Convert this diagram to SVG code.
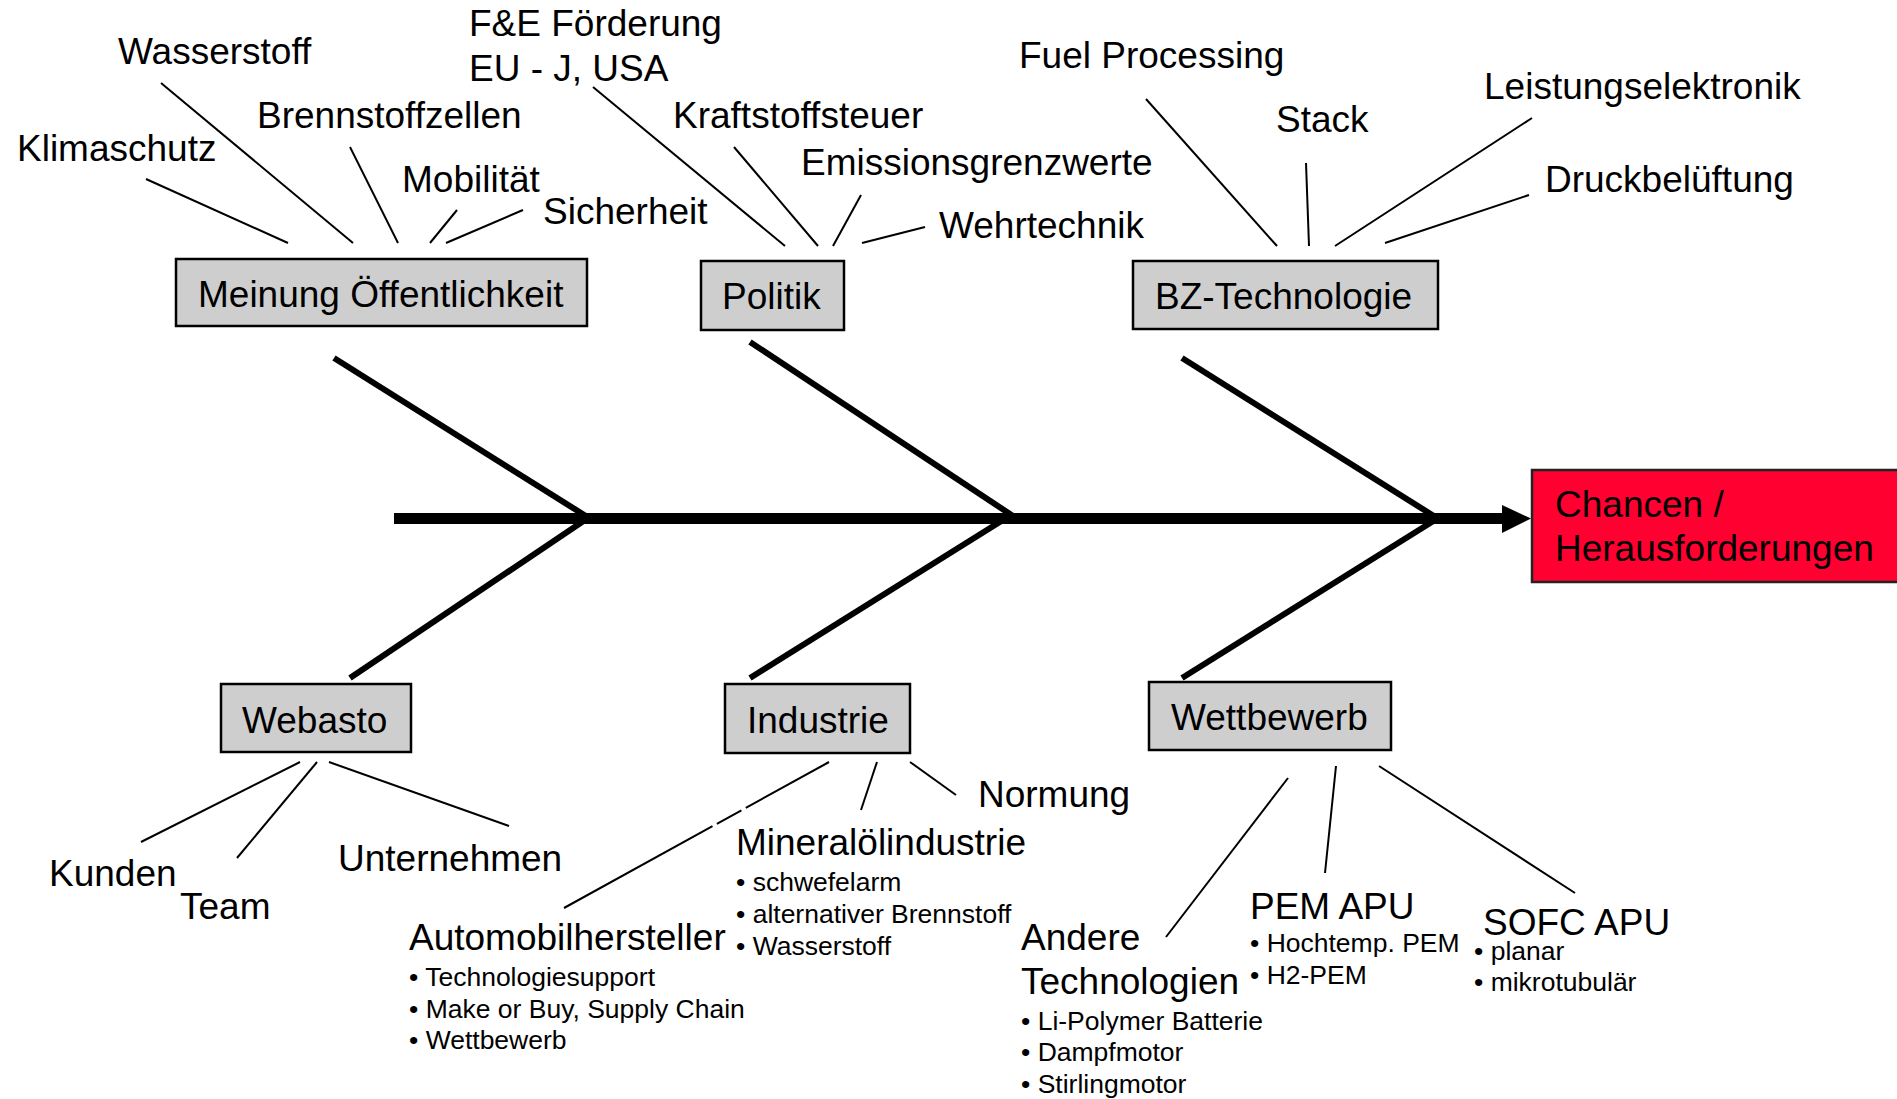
<svg xmlns="http://www.w3.org/2000/svg" width="1897" height="1099" viewBox="0 0 1897 1099">
<style>
text{font-family:"Liberation Sans",Arial,sans-serif;fill:#000}
.lg{font-size:37px}
.sm{font-size:26.5px}
.box{fill:#cecece;stroke:#000;stroke-width:2.5}
.thin{stroke:#000;stroke-width:2;fill:none}
.bone{stroke:#000;stroke-width:6;fill:none}
</style>
<rect width="1897" height="1099" fill="#fff"/>
<g id="connectors">
<line x1="394" y1="518.5" x2="1504" y2="518.5" stroke="#000" stroke-width="11"/>
<polygon points="1502,505 1531,518.5 1502,533" fill="#000"/>
<line class="bone" x1="334" y1="358" x2="589" y2="518"/>
<line class="bone" x1="585" y1="520" x2="350" y2="678"/>
<line class="bone" x1="750" y1="342" x2="1016" y2="518"/>
<line class="bone" x1="1003" y1="520" x2="750" y2="678"/>
<line class="bone" x1="1182" y1="358" x2="1437" y2="518"/>
<line class="bone" x1="1435" y1="520" x2="1182" y2="678"/>
<line class="thin" x1="146" y1="179" x2="288" y2="243"/>
<line class="thin" x1="161" y1="83" x2="353" y2="243"/>
<line class="thin" x1="350" y1="147" x2="398" y2="243"/>
<line class="thin" x1="457" y1="210" x2="430" y2="243"/>
<line class="thin" x1="523" y1="210" x2="446" y2="243"/>
<line class="thin" x1="593" y1="87" x2="785" y2="246"/>
<line class="thin" x1="734" y1="147" x2="818" y2="246"/>
<line class="thin" x1="861" y1="195" x2="833" y2="246"/>
<line class="thin" x1="925" y1="227" x2="862" y2="243"/>
<line class="thin" x1="1146" y1="99" x2="1277" y2="246"/>
<line class="thin" x1="1306" y1="163" x2="1309" y2="246"/>
<line class="thin" x1="1532" y1="118" x2="1335" y2="246"/>
<line class="thin" x1="1529" y1="195" x2="1385" y2="243"/>
<line class="thin" x1="300" y1="762" x2="141" y2="842"/>
<line class="thin" x1="317" y1="762" x2="237" y2="858"/>
<line class="thin" x1="329" y1="762" x2="509" y2="826"/>
<line class="thin" x1="829" y1="762" x2="564" y2="908" stroke-dasharray="95 5 28 5 400"/>
<line class="thin" x1="877" y1="762" x2="861" y2="810"/>
<line class="thin" x1="910" y1="762" x2="956" y2="795"/>
<line class="thin" x1="1288" y1="778" x2="1166" y2="937"/>
<line class="thin" x1="1336" y1="766" x2="1325" y2="873"/>
<line class="thin" x1="1379" y1="766" x2="1575" y2="893"/>
</g>
<g id="node-meinung">
<rect class="box" x="176" y="259" width="411" height="67"/>
<text class="lg" x="198" y="307">Meinung Öffentlichkeit</text>
</g>
<g id="node-politik">
<rect class="box" x="701" y="261" width="143" height="69"/>
<text class="lg" x="722" y="309">Politik</text>
</g>
<g id="node-bz">
<rect class="box" x="1133" y="261" width="305" height="68"/>
<text class="lg" x="1155" y="309">BZ-Technologie</text>
</g>
<g id="node-webasto">
<rect class="box" x="221" y="684" width="190" height="68"/>
<text class="lg" x="242" y="733">Webasto</text>
</g>
<g id="node-industrie">
<rect class="box" x="725" y="684" width="185" height="69"/>
<text class="lg" x="747" y="733">Industrie</text>
</g>
<g id="node-wettbewerb">
<rect class="box" x="1149" y="682" width="242" height="68"/>
<text class="lg" x="1171" y="730">Wettbewerb</text>
</g>
<g id="node-ziel">
<rect x="1532" y="470" width="370" height="112" fill="#ff0030" stroke="#222" stroke-width="2.5"/>
<text class="lg" x="1555" y="517">Chancen /</text>
<text class="lg" x="1555" y="561">Herausforderungen</text>
</g>
<g id="labels-top">
<text class="lg" x="118" y="64">Wasserstoff</text>
<text class="lg" x="469" y="36">F&amp;E Förderung</text>
<text class="lg" x="469" y="81">EU - J, USA</text>
<text class="lg" x="257" y="128">Brennstoffzellen</text>
<text class="lg" x="17" y="161">Klimaschutz</text>
<text class="lg" x="402" y="192">Mobilität</text>
<text class="lg" x="543" y="224">Sicherheit</text>
<text class="lg" x="673" y="128">Kraftstoffsteuer</text>
<text class="lg" x="801" y="175">Emissionsgrenzwerte</text>
<text class="lg" x="939" y="238">Wehrtechnik</text>
<text class="lg" x="1019" y="68">Fuel Processing</text>
<text class="lg" x="1276" y="132">Stack</text>
<text class="lg" x="1484" y="99">Leistungselektronik</text>
<text class="lg" x="1545" y="192">Druckbelüftung</text>
</g>
<g id="labels-bottom">
<text class="lg" x="49" y="886">Kunden</text>
<text class="lg" x="180" y="919">Team</text>
<text class="lg" x="338" y="871">Unternehmen</text>
<text class="lg" x="409" y="950">Automobilhersteller</text>
<text class="sm" x="409" y="986">• Technologiesupport</text>
<text class="sm" x="409" y="1018">• Make or Buy, Supply Chain</text>
<text class="sm" x="409" y="1049">• Wettbewerb</text>
<text class="lg" x="978" y="807">Normung</text>
<text class="lg" x="736" y="855">Mineralölindustrie</text>
<text class="sm" x="736" y="891">• schwefelarm</text>
<text class="sm" x="736" y="923">• alternativer Brennstoff</text>
<text class="sm" x="736" y="955">• Wasserstoff</text>
<text class="lg" x="1021" y="950">Andere</text>
<text class="lg" x="1021" y="994">Technologien</text>
<text class="sm" x="1021" y="1030">• Li-Polymer Batterie</text>
<text class="sm" x="1021" y="1061">• Dampfmotor</text>
<text class="sm" x="1021" y="1093">• Stirlingmotor</text>
<text class="lg" x="1250" y="919">PEM APU</text>
<text class="sm" x="1250" y="952">• Hochtemp. PEM</text>
<text class="sm" x="1250" y="984">• H2-PEM</text>
<text class="lg" x="1483" y="935">SOFC APU</text>
<text class="sm" x="1474" y="960">• planar</text>
<text class="sm" x="1474" y="991">• mikrotubulär</text>
</g>
</svg>
